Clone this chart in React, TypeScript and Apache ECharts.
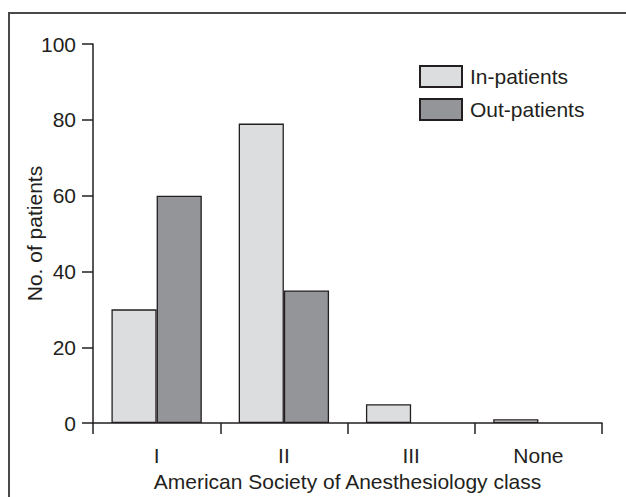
import React, { useEffect, useRef } from "react";
import * as echarts from "echarts";

const categories = ["I", "II", "III", "None"];
const inPatients = [30, 79, 5, 1];
const outPatients = [60, 35, 0, 0];
const seriesNames = ["In-patients", "Out-patients"];
const yTicks = { min: 0, max: 100, interval: 20 };
const xAxisTitle = "American Society of Anesthesiology class";
const yAxisTitle = "No. of patients";

const FONT = "'Liberation Sans', Arial, Helvetica, sans-serif";
const INK = "#231f20";
const FS = 21;

const hideZero = (arr: number[]) => arr.map((v) => (v === 0 ? null : v));

export default function App() {
  const ref = useRef<HTMLDivElement>(null);
  useEffect(() => {
    if (!ref.current) return;
    const chart = echarts.init(ref.current, null, { renderer: "svg" });
    chart.setOption({
      animation: false,
      backgroundColor: "#ffffff",
      textStyle: { fontFamily: FONT, color: INK },
      grid: { left: 93, right: 24, top: 44, bottom: 61, containLabel: false },
      graphic: [
        {
          type: "rect",
          shape: { x: 9, y: 13, width: 640, height: 520 },
          style: { fill: "none", stroke: "#4a4a4a", lineWidth: 2 },
          silent: true,
        },
      ],
      legend: {
        orient: "vertical",
        left: 419,
        top: 65,
        padding: 0,
        itemWidth: 42,
        itemHeight: 21,
        itemGap: 10,
        icon: "rect",
        textStyle: { fontFamily: FONT, fontSize: FS, lineHeight: 21, color: INK, padding: [0, 0, 0, 3] },
        data: seriesNames,
      },
      xAxis: {
        type: "category",
        data: categories,
        name: xAxisTitle,
        nameLocation: "middle",
        nameGap: 47,
        nameTextStyle: { fontFamily: FONT, fontSize: FS, color: INK },
        axisLine: { lineStyle: { color: INK, width: 1.5 } },
        axisTick: { show: true, inside: false, length: 11, alignWithLabel: false, lineStyle: { color: INK, width: 1.5 } },
        axisLabel: { fontFamily: FONT, fontSize: FS, color: INK, margin: 22 },
        splitLine: { show: false },
      },
      yAxis: {
        type: "value",
        min: yTicks.min,
        max: yTicks.max,
        interval: yTicks.interval,
        name: yAxisTitle,
        nameLocation: "middle",
        nameGap: 48,
        nameRotate: 90,
        nameMoveOverlap: false,
        nameTextStyle: { fontFamily: FONT, fontSize: FS, color: INK },
        axisLine: { show: true, lineStyle: { color: INK, width: 1.5 } },
        axisTick: { show: true, inside: false, length: 11, lineStyle: { color: INK, width: 1.5 } },
        axisLabel: { fontFamily: FONT, fontSize: FS, color: INK, margin: 17 },
        splitLine: { show: false },
      },
      series: [
        {
          name: seriesNames[0],
          type: "bar",
          data: hideZero(inPatients),
          barGap: "0%",
          barCategoryGap: "29%",
          itemStyle: { color: "#dcdddf", borderColor: INK, borderWidth: 1.3 },
        },
        {
          name: seriesNames[1],
          type: "bar",
          data: hideZero(outPatients),
          barGap: "0%",
          barCategoryGap: "29%",
          itemStyle: { color: "#939598", borderColor: INK, borderWidth: 1.3 },
        },
      ],
    });
    return () => chart.dispose();
  }, []);
  return (
    <div
      ref={ref}
      style={{ position: "fixed", left: 0, top: 0, width: 626, height: 497 }}
    />
  );
}
